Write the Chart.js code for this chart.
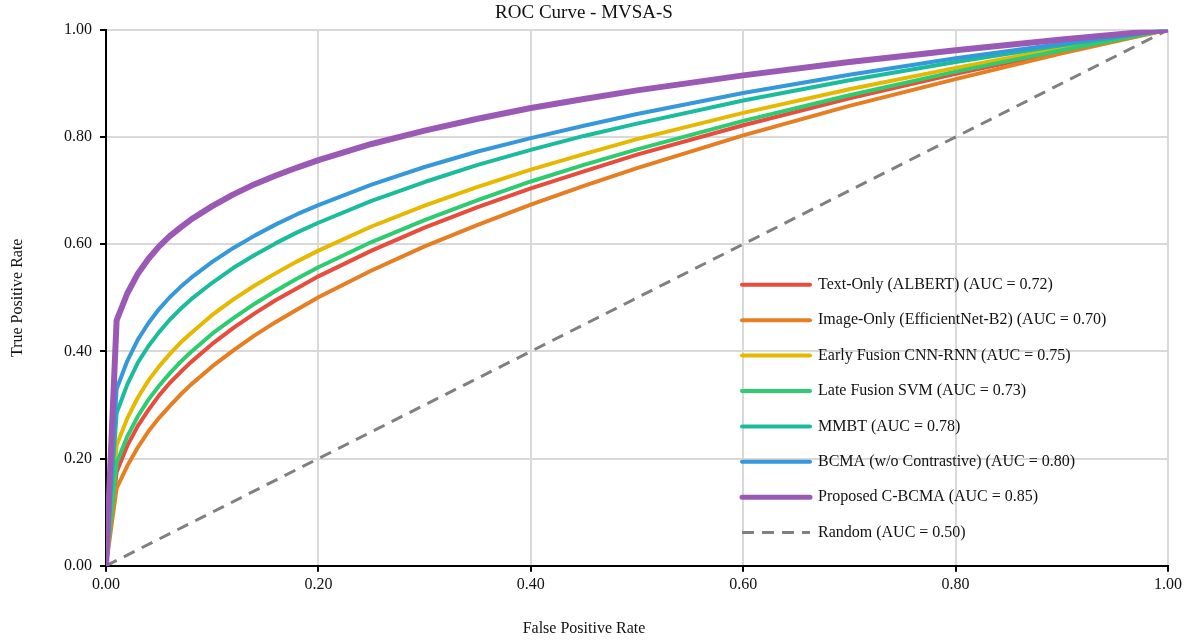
<!DOCTYPE html>
<html>
<head>
<meta charset="utf-8">
<title>ROC Curve - MVSA-S</title>
<script src="https://cdn.jsdelivr.net/npm/chart.js@4.4.1/dist/chart.umd.min.js"></script>
<style>
  html, body { margin: 0; padding: 0; background: #fff; }
  #wrap { width: 1190px; height: 641px; }
</style>
</head>
<body>
<div id="wrap"><canvas id="roc" width="1190" height="641"></canvas></div>
<script>
// False positive rate grid the curves were read at
const fpr = [0, 0.01, 0.02, 0.03, 0.04, 0.05, 0.06, 0.07, 0.08, 0.10, 0.12, 0.14, 0.16, 0.18, 0.20,
             0.25, 0.30, 0.35, 0.40, 0.45, 0.50, 0.60, 0.70, 0.80, 0.90, 1.00];

// True positive rate per model
const textOnly  = [0, 0.175, 0.224, 0.261, 0.291, 0.318, 0.341, 0.361, 0.380, 0.414, 0.444, 0.471, 0.496, 0.518, 0.540,
                   0.588, 0.631, 0.669, 0.704, 0.736, 0.767, 0.822, 0.872, 0.918, 0.960, 1];
const imageOnly = [0, 0.145, 0.186, 0.221, 0.251, 0.276, 0.298, 0.319, 0.338, 0.372, 0.402, 0.430, 0.455, 0.478, 0.501,
                   0.551, 0.596, 0.636, 0.674, 0.709, 0.742, 0.803, 0.858, 0.908, 0.956, 1];
const earlyFus  = [0, 0.225, 0.275, 0.314, 0.346, 0.372, 0.395, 0.416, 0.434, 0.468, 0.497, 0.523, 0.546, 0.568, 0.588,
                   0.633, 0.672, 0.707, 0.739, 0.768, 0.796, 0.845, 0.889, 0.929, 0.966, 1];
const lateFus   = [0, 0.192, 0.241, 0.279, 0.310, 0.336, 0.359, 0.380, 0.399, 0.433, 0.462, 0.489, 0.513, 0.536, 0.557,
                   0.604, 0.645, 0.682, 0.717, 0.748, 0.777, 0.830, 0.878, 0.922, 0.962, 1];
const mmbt      = [0, 0.285, 0.338, 0.379, 0.410, 0.436, 0.459, 0.479, 0.497, 0.528, 0.556, 0.580, 0.602, 0.622, 0.640,
                   0.681, 0.716, 0.748, 0.776, 0.802, 0.825, 0.868, 0.906, 0.940, 0.971, 1];
const bcma      = [0, 0.330, 0.382, 0.422, 0.453, 0.479, 0.501, 0.520, 0.537, 0.567, 0.593, 0.616, 0.637, 0.656, 0.673,
                   0.711, 0.744, 0.773, 0.798, 0.821, 0.843, 0.882, 0.916, 0.947, 0.974, 1];
const proposed  = [0, 0.458, 0.508, 0.545, 0.573, 0.596, 0.615, 0.631, 0.646, 0.671, 0.693, 0.712, 0.728, 0.743, 0.757,
                   0.787, 0.812, 0.834, 0.854, 0.871, 0.887, 0.915, 0.940, 0.962, 0.982, 1];
const randomFpr = [0, 1];
const randomTpr = [0, 1];

const labels = [
  'Text-Only (ALBERT) (AUC = 0.72)',
  'Image-Only (EfficientNet-B2) (AUC = 0.70)',
  'Early Fusion CNN-RNN (AUC = 0.75)',
  'Late Fusion SVM (AUC = 0.73)',
  'MMBT (AUC = 0.78)',
  'BCMA (w/o Contrastive) (AUC = 0.80)',
  'Proposed C-BCMA (AUC = 0.85)',
  'Random (AUC = 0.50)'
];
const colors = ['#e74c3c', '#e67e22', '#e6b800', '#2ecc71', '#1abc9c', '#3498db', '#9b59b6', '#808080'];
const tickValues = [0, 0.2, 0.4, 0.6, 0.8, 1.0];

const FONT = "'Liberation Serif', 'Times New Roman', serif";

function pts(xs, ys) {
  return xs.map((x, i) => ({ x: x, y: ys[i] }));
}

const series = [textOnly, imageOnly, earlyFus, lateFus, mmbt, bcma, proposed];
const datasets = series.map((s, i) => ({
  label: labels[i],
  data: pts(fpr, s),
  borderColor: colors[i],
  borderWidth: i === 6 ? 6 : 4,
  borderJoinStyle: 'round',
  pointRadius: 0,
  fill: false,
  tension: 0,
  order: 7 - i
}));
datasets.push({
  label: labels[7],
  data: pts(randomFpr, randomTpr),
  borderColor: colors[7],
  borderWidth: 3,
  borderDash: [12, 8],
  pointRadius: 0,
  fill: false,
  order: 8
});

// legend drawn inside the plot, lower right
const insideLegend = {
  id: 'insideLegend',
  afterDraw(chart) {
    const ctx = chart.ctx;
    const a = chart.chartArea;
    const x0 = a.left + 636;
    const y0 = a.top + 255;
    const step = 35.4;
    ctx.save();
    chart.data.datasets.forEach((ds, i) => {
      const y = y0 + i * step;
      ctx.beginPath();
      ctx.setLineDash(ds.borderDash || []);
      ctx.lineCap = ds.borderDash ? 'butt' : 'round';
      ctx.strokeStyle = ds.borderColor;
      ctx.lineWidth = i === 6 ? 5 : (ds.borderDash ? 3 : 4);
      ctx.moveTo(x0, y);
      ctx.lineTo(x0 + 68, y);
      ctx.stroke();
      ctx.setLineDash([]);
      ctx.fillStyle = '#111';
      ctx.font = '16px ' + FONT;
      ctx.textBaseline = 'middle';
      ctx.textAlign = 'left';
      ctx.fillText(ds.label, x0 + 76, y);
    });
    ctx.restore();
  }
};

const axisCommon = {
  type: 'linear',
  min: 0,
  max: 1,
  border: { display: true, color: '#000', width: 2 },
  grid: { color: '#d9d9d9', lineWidth: 2, tickLength: 6, tickColor: '#000', tickWidth: 2 },
  afterBuildTicks(scale) {
    scale.ticks = tickValues.map(v => ({ value: v }));
  }
};

new Chart(document.getElementById('roc').getContext('2d'), {
  type: 'line',
  data: { datasets: datasets },
  options: {
    responsive: false,
    animation: false,
    layout: { padding: { left: 0, right: 22, top: 0, bottom: 0 } },
    plugins: {
      legend: { display: false },
      tooltip: { enabled: false },
      title: {
        display: true,
        text: 'ROC Curve - MVSA-S',
        color: '#111',
        font: { family: FONT, size: 19, weight: 'normal' },
        padding: { top: 2, bottom: 5 }
      },
      subtitle: {
        display: true,
        position: 'bottom',
        text: 'False Positive Rate',
        color: '#111',
        font: { family: FONT, size: 16, weight: 'normal' },
        padding: { top: 0, bottom: 3 }
      }
    },
    scales: {
      x: Object.assign({}, axisCommon, {
        ticks: {
          color: '#111',
          padding: 3,
          font: { family: FONT, size: 16 },
          callback: v => Number(v).toFixed(2)
        },
        afterFit(scale) { scale.height = 53; }
      }),
      y: Object.assign({}, axisCommon, {
        ticks: {
          color: '#111',
          padding: 8,
          font: { family: FONT, size: 16 },
          callback: v => Number(v).toFixed(2)
        },
        title: {
          display: true,
          text: 'True Positive Rate',
          color: '#111',
          font: { family: FONT, size: 16 },
          padding: { top: 8, bottom: 0 }
        },
        afterFit(scale) { scale.width = 106; }
      })
    }
  },
  plugins: [insideLegend]
});
</script>
</body>
</html>
